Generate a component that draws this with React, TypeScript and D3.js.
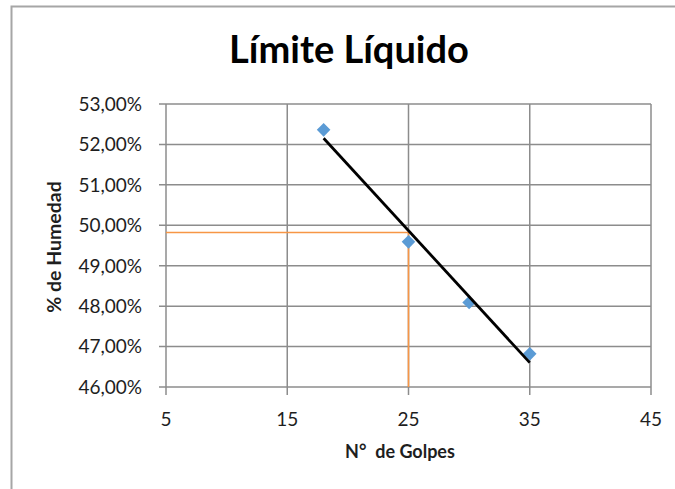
import React from "react";
import * as d3 from "d3";

const title = "Límite Líquido";
const xTitle = "N°  de Golpes";
const yTitle = "% de Humedad";
const xTicks = [5, 15, 25, 35, 45];
const yTicks = [0.46, 0.47, 0.48, 0.49, 0.5, 0.51, 0.52, 0.53];
const golpes = [18, 25, 30, 35];
const humedad = [0.5236, 0.4959, 0.4809, 0.4682];
const golpesRef = [25];
const limiteLiquido = [0.4982];

const W = 675;
const H = 489;

export default function App() {
  const x = d3.scaleLinear().domain([5, 45]).range([166, 651]);
  const y = d3.scaleLinear().domain([0.46, 0.53]).range([387, 104]);
  const fmt = d3
    .formatLocale({ decimal: ",", thousands: ".", grouping: [3], currency: ["", "€"] })
    .format(".2%");

  // linear trendline (least squares) over the data
  const mx = d3.mean(golpes)!;
  const my = d3.mean(humedad)!;
  let sxy = 0;
  let sxx = 0;
  golpes.forEach((g, i) => {
    sxy += (g - mx) * (humedad[i] - my);
    sxx += (g - mx) * (g - mx);
  });
  const slope = sxy / sxx;
  const intercept = my - slope * mx;
  const xMin = d3.min(golpes)!;
  const xMax = d3.max(golpes)!;
  const trend: [number, number][] = [
    [xMin, intercept + slope * xMin],
    [xMax, intercept + slope * xMax],
  ];
  const line = d3
    .line<[number, number]>()
    .x((d) => x(d[0]))
    .y((d) => y(d[1]));

  const diamond = d3.symbol().type(d3.symbolSquare).size(92)();
  const grid = "#8c8c8c";
  const font = "Lato, 'Open Sans', sans-serif";
  const [x0, x1] = x.range();
  const [y0, y1] = y.range();
  const ll = limiteLiquido[0];
  const gr = golpesRef[0];

  return (
    <svg
      width={W}
      height={H}
      style={{ position: "absolute", left: 0, top: 0, background: "#fff" }}
      fontFamily={font}
    >
      <rect x={0} y={0} width={W} height={H} fill="#fff" />
      {/* chart area border */}
      <path d={`M11.5,${H} V6.5 H${W}`} fill="none" stroke="#a6a6a6" strokeWidth={2} />

      <text
        x={349}
        y={63}
        textAnchor="middle"
        fontSize={38}
        fontWeight="bold"
        fill="#000"
      >
        {title}
      </text>

      {/* horizontal gridlines + y ticks */}
      {yTicks.map((t) => (
        <line
          key={"gy" + t}
          x1={x0 - 7}
          x2={x1}
          y1={y(t)}
          y2={y(t)}
          stroke={grid}
          strokeWidth={1.5}
        />
      ))}
      {/* vertical gridlines + x ticks */}
      {xTicks.map((t) => (
        <line
          key={"gx" + t}
          x1={x(t)}
          x2={x(t)}
          y1={y1}
          y2={y0 + 8}
          stroke={grid}
          strokeWidth={1.5}
        />
      ))}

      {yTicks.map((t) => (
        <text
          key={"ly" + t}
          x={142}
          y={y(t)}
          dy="0.36em"
          textAnchor="end"
          fontSize={19}
          fill="#1e1e1e"
        >
          {fmt(t)}
        </text>
      ))}
      {xTicks.map((t) => (
        <text
          key={"lx" + t}
          x={x(t)}
          y={426}
          textAnchor="middle"
          fontSize={19}
          fill="#1e1e1e"
        >
          {t}
        </text>
      ))}

      {/* reference lines for liquid limit */}
      <path
        d={`M${x0},${y(ll)} H${x(gr)} V${y0}`}
        fill="none"
        stroke="#F79646"
        strokeWidth={1.6}
      />

      {/* markers */}
      {golpes.map((g, i) => (
        <path
          key={"m" + i}
          d={diamond!}
          transform={`translate(${x(g)},${y(humedad[i])}) rotate(45)`}
          fill="#5B9BD5"
        />
      ))}

      {/* trendline */}
      <path d={line(trend)!} fill="none" stroke="#000" strokeWidth={2.8} />

      <text
        x={400}
        y={458}
        textAnchor="middle"
        fontSize={18}
        fontWeight="bold"
        fill="#1e1e1e"
        style={{ whiteSpace: "pre" }}
      >
        {xTitle}
      </text>
      <text
        transform={`translate(61,247) rotate(-90)`}
        textAnchor="middle"
        fontSize={19.5}
        fontWeight="bold"
        fill="#1e1e1e"
      >
        {yTitle}
      </text>
    </svg>
  );
}
